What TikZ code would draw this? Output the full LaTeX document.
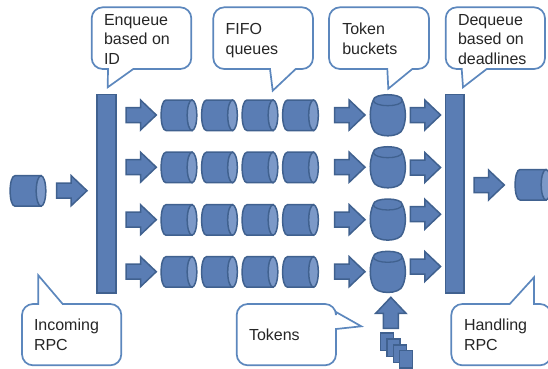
\documentclass[tikz,border=0pt]{standalone}
\usepackage{fontspec}
\setmainfont{Liberation Sans}
\definecolor{blk}{HTML}{5A7DB4}
\definecolor{blkline}{HTML}{40618F}
\definecolor{blklight}{HTML}{7C99C8}
\definecolor{callline}{HTML}{5C87BD}
\tikzset{
  blockshape/.style={fill=blk,draw=blkline,line width=1.5pt,line join=miter},
  lightend/.style={fill=blklight,draw=blkline,line width=1.5pt},
  callout/.style={fill=white,draw=callline,line width=1.7pt,line join=miter},
  caption/.style={anchor=base west,inner sep=0pt,outer sep=0pt,align=left,font=\fontsize{16}{19.7}\selectfont,text=black!85},
  pics/hcyl/.style={code={
    \draw[blockshape] (31,0) -- (5,0) .. controls (-1.5,0) and (-1.5,30.5) .. (5,30.5) -- (31,30.5) -- cycle;
    \draw[lightend] (31,15.25) ellipse [x radius=4.8,y radius=15.25];
  }},
  pics/bucket/.style={code={
    \draw[blockshape] (3,5.5) .. controls (3,-1.8) and (32,-1.8) .. (32,5.5)
      .. controls (36,14) and (36,26) .. (32.5,34)
      .. controls (30,43.5) and (5,43.5) .. (2.5,34)
      .. controls (-1,26) and (-1,14) .. (3,5.5) -- cycle;
    \draw[blkline,line width=1.3pt] (3,5.5) .. controls (3,12.8) and (32,12.8) .. (32,5.5);
  }},
  pics/rarrow/.style={code={
    \draw[blockshape] (0,-7.5) -- (14.5,-7.5) -- (14.5,-15) -- (30.3,0) -- (14.5,15) -- (14.5,7.5) -- (0,7.5) -- cycle;
  }},
  pics/tokenrect/.style={code={
    \draw[blockshape] (0,0) rectangle (13,17.5);
  }}
}
\begin{document}
\begin{tikzpicture}[x=1pt,y=-1pt]
\useasboundingbox (0,0) rectangle (548,368);
\clip (0,0) rectangle (548,368);
% bars
\draw[blockshape] (97,94.7) rectangle (116,293);
\draw[blockshape] (445.7,94.7) rectangle (464,293);
% input / output
\pic at (10,175.7) {hcyl};
\pic at (56.7,190.7) {rarrow};
\pic at (474,185) {rarrow};
\pic at (515,169.5) {hcyl};
% rows
\foreach \ytop/\ybuck/\yout in {100/94.7/115, 152.2/146.7/167.5, 204.7/199/214.2, 256.7/251.3/266.5}{
  \pic at (126,\ytop+15) {rarrow};
  \foreach \xc in {161,201.5,242,282.5}{ \pic at (\xc,\ytop) {hcyl}; }
  \pic at (334.7,\ytop+15) {rarrow};
  \pic at (370.3,\ybuck) {bucket};
  \pic at (410.3,\yout) {rarrow};
}
% tokens
\draw[blockshape] (383.3,328.3) -- (383.3,313.3) -- (375.7,313.3) -- (390.8,297.3) -- (406,313.3) -- (398.3,313.3) -- (398.3,328.3) -- cycle;
\pic at (380.7,333) {tokenrect};
\pic at (387,339) {tokenrect};
\pic at (393.3,345) {tokenrect};
\pic at (399.3,350.3) {tokenrect};
% callouts
\draw[callout] (133.3,69) [rounded corners=11] -- (191.3,69) -- (191.3,7.3) -- (91.7,7.3) -- (91.7,69) [sharp corners] -- (108,69) -- (107.7,87.3) -- cycle;
\draw[callout] (295.7,69) [rounded corners=11] -- (313,69) -- (313,7.3) -- (213.3,7.3) -- (213.3,69) [sharp corners] -- (270,69) -- (272.7,90.7) -- cycle;
\draw[callout] (412.3,69) [rounded corners=11] -- (429,69) -- (429,7.3) -- (329,7.3) -- (329,69) [sharp corners] -- (387.3,69) -- (388.3,88.7) -- cycle;
\draw[callout] (486.7,69) [rounded corners=11] -- (545,69) -- (545,7.3) -- (445.7,7.3) -- (445.7,69) [sharp corners] -- (461.7,69) -- (463,87.3) -- cycle;
\draw[callout] (38.3,304) [rounded corners=11] -- (22,304) -- (22,365.3) -- (121.3,365.3) -- (121.3,304) [sharp corners] -- (62.7,304) -- (38.3,275.3) -- cycle;
\draw[callout] (336,329) [rounded corners=11] -- (336,365.3) -- (236.7,365.3) -- (236.7,304) -- (336,304) [sharp corners] -- (336,312) -- (361.3,326.3) -- cycle;
\draw[callout] (509.7,304) [rounded corners=11] -- (451.3,304) -- (451.3,365.3) -- (551,365.3) -- (551,304) [sharp corners] -- (534,304) -- (534,277.3) -- cycle;
% texts
\node[caption] (enq) at (104,64.5) {Enqueue\\based on\\ID};
\node[caption] (fifo) at (225.7,54.3) {FIFO\\queues};
\node[caption] (tok) at (342.3,54.3) {Token\\buckets};
\node[caption] (deq) at (458,64.5) {Dequeue\\based on\\deadlines};
\node[caption] (inc) at (34,350.5) {Incoming\\RPC};
\node[caption] (tks) at (249,340.7) {Tokens};
\node[caption] (han) at (464,350.5) {Handling\\RPC};
\end{tikzpicture}
\end{document}
